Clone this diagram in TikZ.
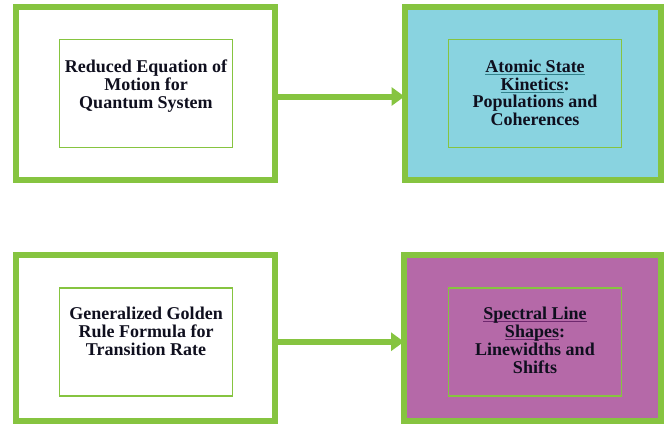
\documentclass[tikz,border=0pt]{standalone}
\usepackage{fontspec}
\setmainfont{Liberation Serif}
\usetikzlibrary{arrows.meta}
\definecolor{boxGreen}{RGB}{134,196,64}
\definecolor{boxCyan}{RGB}{137,211,224}
\definecolor{boxPurple}{RGB}{181,105,168}
\definecolor{lineTeal}{RGB}{50,130,140}
\definecolor{linePlum}{RGB}{110,40,110}
\definecolor{inkDark}{RGB}{15,15,30}
\newcommand{\ulk}[2]{\setbox0\hbox{#2}\rlap{\color{#1}\rule[-2.5pt]{\wd0}{1pt}}\box0}

\begin{document}
\begin{tikzpicture}[x=1pt,y=-1pt,
    outerbox/.style={draw=boxGreen,line width=6pt,outer sep=0pt,inner sep=0pt,
      minimum width=259.5pt,minimum height=173pt},
    innerbox/.style={draw=boxGreen,line width=1.5pt,inner sep=0pt,
      minimum width=173.4pt,minimum height=108.4pt},
    boxtext/.style={anchor=north,inner sep=0pt,align=center,text=inkDark,
      font=\bfseries\fontsize{18}{17.8}\selectfont},
    flow/.style={draw=boxGreen,line width=6pt,-{Triangle[length=13pt,width=18pt]}}]
  \useasboundingbox (0,0) rectangle (665,429);

  % outer frames
  \node[outerbox] (qsys) at (145.25,93.5) {};
  \node[outerbox,fill=boxCyan,minimum width=256.5pt] (kin) at (532.75,93.5) {};
  \node[outerbox,minimum height=165.5pt] (gold) at (145.25,337.75) {};
  \node[outerbox,fill=boxPurple,minimum width=257pt,minimum height=165.5pt] (spec) at (532.5,337.75) {};

  % inner frames
  \node[innerbox] (qsysin) at (146,93.5) {};
  \node[innerbox] (kinin) at (535,93.5) {};
  \node[innerbox] (goldin) at (146,342) {};
  \node[innerbox] (specin) at (535,342) {};

  \node[boxtext] (qsystxt) at ([yshift=-21pt]qsysin.north)
    {Reduced Equation of\\Motion for\\Quantum System};
  \node[boxtext] (kintxt) at ([yshift=-21pt]kinin.north)
    {\ulk{lineTeal}{Atomic State}\\\ulk{lineTeal}{Kinetics}:\\Populations and\\Coherences};
  \node[boxtext] (goldtxt) at ([yshift=-20pt]goldin.north)
    {Generalized Golden\\Rule Formula for\\Transition Rate};
  \node[boxtext] (spectxt) at ([yshift=-20pt]specin.north)
    {\ulk{linePlum}{Spectral Line}\\\ulk{linePlum}{Shapes}:\\Linewidths and\\Shifts};

  \draw[flow] ([yshift=-3pt]qsys.east) -- ([yshift=-3pt]kin.west);
  \draw[flow] ([yshift=-4pt]gold.east) -- ([yshift=-4pt]spec.west);
\end{tikzpicture}
\end{document}
